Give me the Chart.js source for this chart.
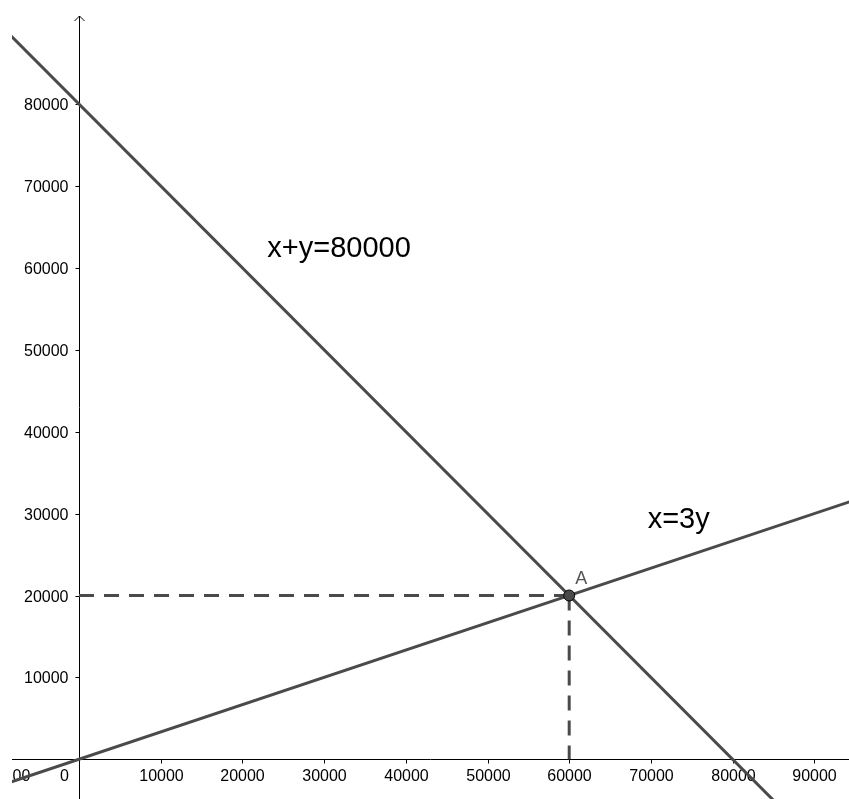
<!DOCTYPE html>
<html>
<head>
<meta charset="utf-8">
<title>x+y=80000 and x=3y</title>
<script src="https://cdn.jsdelivr.net/npm/chart.js@4.4.0/dist/chart.umd.min.js"></script>
<style>
  html, body { margin: 0; padding: 0; background: #fff; overflow: hidden; }
  #wrap { width: 849px; height: 799px; }
  canvas { display: block; }
</style>
</head>
<body>
<div id="wrap"><canvas id="graph" width="849" height="799"></canvas></div>
<script>
// visible window of the graph
const xRange = [-8201, 94247];
const yRange = [-4847, 92711];

// tick labels
const xTicks = [-10000, 0, 10000, 20000, 30000, 40000, 50000, 60000, 70000, 80000, 90000];
const yTicks = [10000, 20000, 30000, 40000, 50000, 60000, 70000, 80000];

// line x+y=80000, end points past the window
const sumLine = [{ x: -10000, y: 90000 }, { x: 90000, y: -10000 }];
// line x=3y
const ratioLine = [{ x: -15000, y: -5000 }, { x: 96000, y: 32000 }];
// intersection A and its guide lines
const pointA = [{ x: 60000, y: 20000 }];
const guideH = [{ x: 0, y: 20000 }, { x: 60000, y: 20000 }];
const guideV = [{ x: 60000, y: 20000 }, { x: 60000, y: 0 }];

// text labels: [text, x, y]
const lineLabels = [
    ['x+y=80000', 23050, 61300],
    ['x=3y', 69600, 28300]
];

const lineColor = '#4a4a4a';
const font = '"Liberation Sans", Arial, sans-serif';

// draws the axes, ticks and labels the way GeoGebra does
const axesPlugin = {
    id: 'axes',
    beforeDatasetsDraw(chart) {
        const ctx = chart.ctx;
        const xs = chart.scales.x;
        const ys = chart.scales.y;
        const area = chart.chartArea;
        const ox = Math.round(xs.getPixelForValue(0)) + 0.5;
        const oy = Math.round(ys.getPixelForValue(0)) + 0.5;

        ctx.save();
        ctx.beginPath();
        ctx.rect(area.left, 0, area.right - area.left, chart.height);
        ctx.clip();

        ctx.strokeStyle = '#000';
        ctx.lineWidth = 1;

        // x axis
        ctx.beginPath();
        ctx.moveTo(area.left, oy);
        ctx.lineTo(area.right, oy);
        // y axis with arrow
        ctx.moveTo(ox, chart.height);
        ctx.lineTo(ox, 16);
        ctx.moveTo(ox - 5, 21);
        ctx.lineTo(ox, 16);
        ctx.lineTo(ox + 5, 21);
        ctx.stroke();

        ctx.fillStyle = '#000';
        ctx.font = '16px ' + font;

        // x ticks
        ctx.textAlign = 'center';
        ctx.textBaseline = 'middle';
        xTicks.forEach(v => {
            const px = Math.round(xs.getPixelForValue(v)) + 0.5;
            if (v === 0) {
                ctx.fillText('0', ox - 15, oy + 17);
                return;
            }
            ctx.beginPath();
            ctx.moveTo(px, oy);
            ctx.lineTo(px, oy + 4);
            ctx.stroke();
            const shift = v < 0 ? 8 : 0;
            ctx.fillText(String(v), px + shift, oy + 17);
        });

        // y ticks
        ctx.textAlign = 'right';
        yTicks.forEach(v => {
            const py = Math.round(ys.getPixelForValue(v)) + 0.5;
            ctx.beginPath();
            ctx.moveTo(ox, py);
            ctx.lineTo(ox - 4, py);
            ctx.stroke();
            ctx.fillText(String(v), ox - 11, py + 1);
        });

        ctx.restore();
    },
    afterDatasetsDraw(chart) {
        const ctx = chart.ctx;
        const xs = chart.scales.x;
        const ys = chart.scales.y;
        ctx.save();
        ctx.fillStyle = '#000';
        ctx.font = '29px ' + font;
        ctx.textAlign = 'left';
        ctx.textBaseline = 'alphabetic';
        lineLabels.forEach(([t, x, y]) => {
            ctx.fillText(t, xs.getPixelForValue(x), ys.getPixelForValue(y));
        });

        // label of point A
        ctx.fillStyle = '#555';
        ctx.font = '18px ' + font;
        const a = pointA[0];
        ctx.fillText('A', xs.getPixelForValue(a.x) + 6, ys.getPixelForValue(a.y) - 12);
        ctx.restore();
    }
};

window.onload = function() {
    const ctx = document.getElementById('graph').getContext('2d');

    const lineStyle = {
        showLine: true,
        borderColor: lineColor,
        borderWidth: 3,
        pointRadius: 0,
        pointHoverRadius: 0,
        fill: false
    };

    new Chart(ctx, {
        type: 'scatter',
        data: {
            datasets: [
                { label: 'A', data: pointA, pointRadius: 5.5, pointBackgroundColor: lineColor,
                  pointBorderColor: '#000', pointBorderWidth: 1, showLine: false },
                Object.assign({ label: 'x+y=80000', data: sumLine }, lineStyle),
                Object.assign({ label: 'x=3y', data: ratioLine }, lineStyle),
                Object.assign({ label: 'y=20000', data: guideH, borderDash: [15, 10] }, lineStyle),
                Object.assign({ label: 'x=60000', data: guideV, borderDash: [15, 10] }, lineStyle)
            ]
        },
        options: {
            responsive: false,
            animation: false,
            events: [],
            layout: { autoPadding: false, padding: { left: 12, right: 0, top: 0, bottom: 0 } },
            plugins: {
                legend: { display: false },
                tooltip: { enabled: false }
            },
            scales: {
                x: { type: 'linear', min: xRange[0], max: xRange[1], display: false },
                y: { type: 'linear', min: yRange[0], max: yRange[1], display: false }
            }
        },
        plugins: [axesPlugin]
    });
};
</script>
</body>
</html>
